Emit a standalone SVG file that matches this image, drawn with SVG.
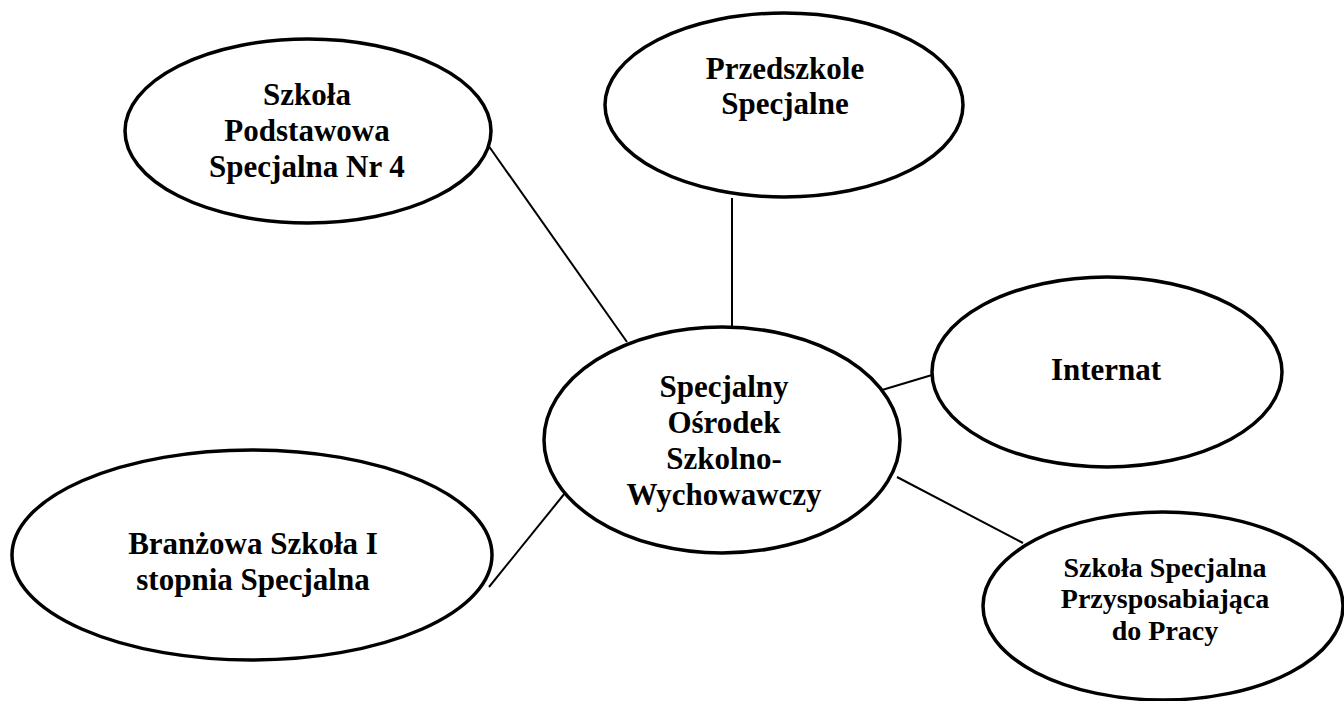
<svg xmlns="http://www.w3.org/2000/svg" width="1344" height="701" viewBox="0 0 1344 701">
<style>
.node ellipse{fill:#fff;stroke:#000;stroke-width:3.5}
.node text{font-family:"Liberation Serif","Times New Roman",serif;font-weight:bold;font-size:31px;fill:#000;text-anchor:middle}
.node text.sm{font-size:28px}
.conn line{stroke:#000;stroke-width:2;fill:none}
</style>
<rect width="1344" height="701" fill="#fff"/>
<g id="connectors" class="conn">
<line x1="488" y1="145" x2="627" y2="342"/>
<line x1="732" y1="198" x2="732" y2="327"/>
<line x1="882" y1="390" x2="932" y2="375"/>
<line x1="897" y1="477" x2="1023" y2="543"/>
<line x1="489" y1="587" x2="565" y2="493"/>
</g>
<g id="node-podstawowa" class="node">
<ellipse cx="308" cy="131" rx="183" ry="92"/>
<text x="307" y="105">Szkoła</text>
<text x="307" y="141">Podstawowa</text>
<text x="307" y="177">Specjalna Nr 4</text>
</g>
<g id="node-przedszkole" class="node">
<ellipse cx="784" cy="105" rx="179" ry="92"/>
<text x="785" y="79">Przedszkole</text>
<text x="785" y="114">Specjalne</text>
</g>
<g id="node-osrodek" class="node">
<ellipse cx="722" cy="440" rx="178" ry="113"/>
<text x="724" y="397">Specjalny</text>
<text x="724" y="433">Ośrodek</text>
<text x="724" y="469">Szkolno-</text>
<text x="724" y="505">Wychowawczy</text>
</g>
<g id="node-internat" class="node">
<ellipse cx="1107" cy="372" rx="175" ry="95"/>
<text x="1106" y="380">Internat</text>
</g>
<g id="node-branzowa" class="node">
<ellipse cx="252" cy="555" rx="240" ry="105"/>
<text x="253" y="554">Branżowa Szkoła I</text>
<text x="253" y="590">stopnia Specjalna</text>
</g>
<g id="node-przysposabiajaca" class="node">
<ellipse cx="1163" cy="606" rx="180" ry="94"/>
<text class="sm" x="1165" y="577">Szkoła Specjalna</text>
<text class="sm" x="1165" y="608">Przysposabiająca</text>
<text class="sm" x="1165" y="640">do Pracy</text>
</g>
</svg>
